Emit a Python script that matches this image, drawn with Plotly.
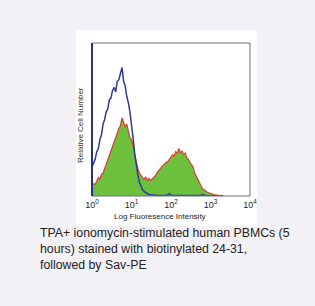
import plotly.graph_objects as go

# Fluorescence bins (log10 units)
log_bins = [0.00, 0.04, 0.08, 0.12, 0.16, 0.20, 0.24, 0.28, 0.32, 0.36,
            0.40, 0.44, 0.48, 0.52, 0.56, 0.60, 0.64, 0.68, 0.72, 0.76,
            0.80, 0.84, 0.88, 0.92, 0.96, 1.00, 1.04, 1.08, 1.12, 1.16,
            1.20, 1.24, 1.28, 1.32, 1.36, 1.40, 1.44, 1.48, 1.52, 1.56,
            1.60, 1.64, 1.68, 1.72, 1.76, 1.80, 1.84, 1.88, 1.92, 1.96,
            2.00, 2.04, 2.08, 2.12, 2.16, 2.20, 2.24, 2.28, 2.32, 2.36,
            2.40, 2.44, 2.48, 2.52, 2.56, 2.60, 2.64, 2.68, 2.72, 2.76,
            2.80, 2.84, 2.88, 2.92, 2.96, 3.00, 3.04, 3.08, 3.12, 3.16,
            3.20, 3.24, 3.28, 3.32]

# Control (blue outline)
control = [19, 22, 24, 29, 31, 37, 40, 47, 50, 55,
           57, 63, 64, 69, 71, 68, 75, 76, 81, 84,
           75, 72, 65, 61, 55, 48, 38, 28, 20, 14,
           9, 6, 4, 3, 2, 1.5, 1, 0.8, 0.5, 0.5,
           0.4, 0.3, 0.3, 0.3, 0.3, 0.3, 0.3, 0.4, 0.8, 1.5,
           0.4, 0.3, 0.3, 0.3, 0.3, 0.3, 0.3, 0.3, 0.3, 0.3,
           0.3, 0.3, 0.3, 0.3, 0.3, 0.3, 0.3, 0.3, 0.3, 0.3,
           1.2, 0.3, 0.3, 0, 0, 0, 0, 0, 0, 0,
           0, 0, 0, 0]

# Stained (green fill, red outline)
stained = [7, 8, 7.5, 10, 12, 11, 14, 15, 18, 21,
           23, 27, 29, 32, 35, 39, 41, 44, 46, 51,
           48, 45, 47, 42, 38, 37, 33, 27, 22, 18,
           15, 13, 12, 11, 12.5, 10, 11.5, 10, 11, 12,
           13, 15, 16, 17.5, 19, 20, 21.5, 22, 22.5, 24,
           25, 27, 26, 29, 28, 31, 28, 29.5, 27, 28,
           25, 24, 22, 20, 19, 15, 13, 10, 8, 6,
           4.5, 4, 3, 2.5, 2, 1.5, 1.2, 1, 0.8, 0.6,
           0.3, 0.2, 0, 0]

tick_vals = [1, 10, 100, 1000, 10000]
tick_text = ["10<sup>0</sup>", "10<sup>1</sup>", "10<sup>2</sup>", "10<sup>3</sup>", "10<sup>4</sup>"]

x_vals = [10 ** b for b in log_bins]

fig = go.Figure()
fig.add_trace(go.Scatter(
    x=x_vals, y=stained, mode="lines", fill="tozeroy",
    fillcolor="#6cc03c", line=dict(color="#e23a30", width=1.2),
    hoverinfo="skip", showlegend=False))
fig.add_trace(go.Scatter(
    x=x_vals, y=control, mode="lines",
    line=dict(color="#2b3a9c", width=1.5),
    hoverinfo="skip", showlegend=False))

fig.update_layout(
    width=315, height=306,
    margin=dict(l=92, r=65, t=43, b=110),
    paper_bgcolor="#f3f1f6", plot_bgcolor="white",
    font=dict(family="Liberation Sans, Arial, sans-serif", color="#222"),
    xaxis=dict(type="log", range=[0, 4], tickvals=tick_vals, ticktext=tick_text,
               showgrid=False, zeroline=False, showline=False, ticks="",
               ticklabelstandoff=2,
               tickfont=dict(size=9, color="#222")),
    yaxis=dict(range=[0, 100], showgrid=False, zeroline=False, showticklabels=False,
               showline=False, ticks=""),
    shapes=[
        dict(type="rect", xref="paper", yref="paper", x0=-0.101, x1=1.044,
             y0=-0.196, y1=1.085, fillcolor="white", line=dict(width=0), layer="below"),
        dict(type="rect", xref="paper", yref="paper", x0=0, x1=1, y0=0, y1=1,
             line=dict(color="#6e6e88", width=1), layer="above"),
        dict(type="line", xref="paper", yref="paper", x0=0, x1=0, y0=0, y1=1,
             line=dict(color="#2b2f8a", width=2), layer="above"),
    ],
    annotations=[
        dict(text="Relative Cell Number", xref="paper", yref="paper",
             x=-0.063, y=0.464, xanchor="center", yanchor="middle", textangle=-90,
             showarrow=False, xshift=-2,
             font=dict(size=8, color="#333")),
        dict(text="Log Fluoresence Intensity", xref="paper", yref="paper",
             x=0.43, y=-0.137, xanchor="center", yanchor="middle", showarrow=False,
             font=dict(size=8, color="#222")),
        dict(text="TPA+ ionomycin-stimulated human PBMCs (5<br>hours) stained with biotinylated 24-31,<br>followed by Sav-PE",
             xref="paper", yref="paper", x=-0.342, y=-0.185, xanchor="left", yanchor="top",
             align="left", showarrow=False, font=dict(size=12.3, color="#222")),
    ],
)

fig.write_html("out.html")
